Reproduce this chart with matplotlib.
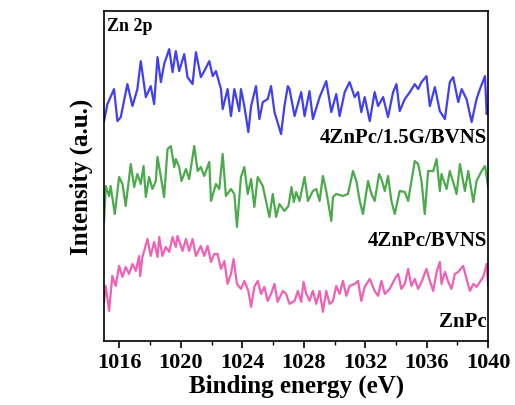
import matplotlib
matplotlib.use("Agg")
import matplotlib.pyplot as plt
from matplotlib.ticker import MultipleLocator

# Binding energy (eV) and intensity (a.u.)
e_blue = [1015.00, 1015.22, 1015.65, 1015.87, 1016.09, 1016.52, 1016.85, 1017.17, 1017.39, 1017.72,
          1018.04, 1018.26, 1018.48, 1018.70, 1018.91, 1019.24, 1019.46, 1019.67, 1019.89, 1020.22,
          1020.43, 1020.76, 1020.98, 1021.30, 1021.52, 1021.85, 1022.07, 1022.28, 1022.61, 1022.72,
          1023.04, 1023.26, 1023.48, 1023.80, 1023.91, 1024.13, 1024.39, 1024.57, 1024.89, 1025.11,
          1025.33, 1025.65, 1025.87, 1026.09, 1026.52, 1026.74, 1026.96, 1027.07, 1027.40, 1027.83,
          1028.05, 1028.37, 1028.59, 1029.03, 1029.46, 1029.79, 1030.11, 1030.33, 1030.66, 1030.98,
          1031.31, 1031.53, 1031.74, 1031.96, 1032.29, 1032.61, 1032.83, 1033.16, 1033.48, 1033.81,
          1034.03, 1034.24, 1034.57, 1034.90, 1035.22, 1035.44, 1035.66, 1035.98, 1036.20, 1036.53,
          1036.85, 1037.18, 1037.50, 1037.72, 1038.05, 1038.27, 1038.59, 1038.92, 1039.24, 1039.46,
          1039.79, 1039.90, 1040.00]
i_blue = [220, 237, 252, 220, 224, 257, 235, 252, 280, 244,
          255, 237, 284, 259, 277, 292, 269, 290, 270, 287,
          264, 257, 289, 264, 270, 280, 265, 270, 252, 232,
          252, 225, 252, 230, 252, 235, 209, 235, 255, 222,
          239, 242, 255, 229, 207, 235, 255, 252, 225, 249,
          225, 250, 222, 244, 260, 229, 247, 225, 249, 259,
          244, 249, 229, 244, 220, 249, 235, 244, 224, 249,
          257, 230, 242, 249, 257, 252, 259, 265, 235, 254,
          230, 222, 259, 264, 239, 252, 242, 219, 242, 252,
          265, 227, 235]

e_green = [1015.00, 1015.11, 1015.33, 1015.43, 1015.70, 1015.98, 1016.20, 1016.41, 1016.74, 1016.96,
           1017.17, 1017.39, 1017.57, 1017.72, 1017.93, 1018.15, 1018.37, 1018.48, 1018.70, 1018.91,
           1019.13, 1019.35, 1019.57, 1019.67, 1019.89, 1020.04, 1020.33, 1020.54, 1020.87, 1021.09,
           1021.30, 1021.52, 1021.85, 1021.96, 1022.28, 1022.50, 1022.72, 1022.93, 1023.26, 1023.48,
           1023.65, 1023.91, 1024.13, 1024.35, 1024.57, 1024.78, 1025.00, 1025.33, 1025.54, 1025.76,
           1025.98, 1026.20, 1026.41, 1026.74, 1027.00, 1027.20, 1027.35, 1027.50, 1027.72, 1028.05,
           1028.27, 1028.59, 1028.81, 1029.03, 1029.24, 1029.46, 1029.79, 1029.90, 1030.11, 1030.55,
           1030.87, 1031.20, 1031.42, 1031.64, 1031.85, 1032.18, 1032.40, 1032.61, 1032.90, 1033.05,
           1033.27, 1033.48, 1033.70, 1033.92, 1034.24, 1034.57, 1034.79, 1035.11, 1035.22, 1035.44,
           1035.66, 1035.87, 1036.09, 1036.42, 1036.64, 1036.85, 1036.96, 1037.29, 1037.50, 1037.72,
           1037.94, 1038.16, 1038.48, 1038.70, 1039.03, 1039.24, 1039.57, 1039.79, 1040.00]
i_green = [119, 155, 145, 155, 127, 164, 157, 135, 177, 154,
           167, 157, 175, 144, 164, 152, 160, 184, 164, 144,
           192, 195, 174, 182, 174, 160, 172, 162, 195, 170,
           174, 165, 179, 140, 157, 152, 187, 145, 152, 147,
           114, 164, 174, 147, 162, 134, 164, 155, 140, 124,
           147, 124, 137, 130, 135, 154, 139, 149, 140, 164,
           140, 150, 152, 140, 165, 150, 120, 144, 147, 145,
           147, 170, 160, 140, 127, 160, 147, 140, 167, 162,
           150, 165, 140, 127, 150, 149, 140, 170, 180, 177,
           160, 127, 170, 170, 182, 150, 167, 152, 170, 159,
           147, 177, 150, 170, 139, 160, 170, 175, 154]

e_pink = [1015.00, 1015.11, 1015.33, 1015.54, 1015.76, 1015.98, 1016.20, 1016.41, 1016.63, 1016.85,
          1017.07, 1017.28, 1017.35, 1017.50, 1017.83, 1018.04, 1018.26, 1018.48, 1018.59, 1018.80,
          1019.02, 1019.24, 1019.46, 1019.67, 1019.78, 1020.11, 1020.33, 1020.54, 1020.76, 1020.98,
          1021.30, 1021.52, 1021.74, 1021.96, 1022.17, 1022.39, 1022.61, 1022.83, 1023.04, 1023.26,
          1023.43, 1023.65, 1023.91, 1024.13, 1024.39, 1024.57, 1024.78, 1025.00, 1025.22, 1025.43,
          1025.65, 1025.87, 1026.09, 1026.30, 1026.63, 1026.85, 1027.07, 1027.40, 1027.61, 1027.83,
          1027.98, 1028.16, 1028.37, 1028.59, 1028.81, 1029.03, 1029.24, 1029.46, 1029.68, 1029.90,
          1030.11, 1030.33, 1030.55, 1030.77, 1030.98, 1031.31, 1031.53, 1031.74, 1031.96, 1032.29,
          1032.61, 1032.83, 1033.05, 1033.27, 1033.59, 1033.92, 1034.14, 1034.35, 1034.57, 1034.79,
          1035.00, 1035.22, 1035.44, 1035.66, 1035.98, 1036.20, 1036.42, 1036.64, 1036.85, 1036.96,
          1037.18, 1037.40, 1037.61, 1037.83, 1038.05, 1038.37, 1038.59, 1038.81, 1039.03, 1039.24,
          1039.46, 1039.68, 1039.90, 1040.00]
i_pink = [39, 55, 30, 65, 55, 75, 64, 74, 67, 77,
          70, 85, 65, 84, 102, 85, 99, 84, 104, 85,
          94, 89, 104, 94, 105, 90, 102, 90, 102, 85,
          95, 85, 95, 79, 87, 87, 72, 80, 57, 67,
          82, 57, 52, 60, 50, 34, 54, 60, 47, 54,
          40, 47, 57, 39, 50, 47, 37, 40, 50, 39,
          59, 47, 40, 50, 37, 50, 29, 50, 37, 40,
          55, 47, 60, 45, 55, 57, 60, 40, 54, 62,
          50, 45, 60, 47, 52, 62, 67, 52, 57, 72,
          55, 62, 52, 59, 72, 60, 50, 69, 79, 57,
          69, 59, 52, 67, 69, 75, 62, 50, 57, 54,
          59, 64, 77, 55]

labels = ["4ZnPc/1.5G/BVNS", "4ZnPc/BVNS", "ZnPc"]
label_y = [204, 101, 20]
colors = ["#4040f0", "#4caa4c", "#f060b4"]

plt.rcParams['font.family'] = ['Liberation Serif', 'DejaVu Serif']
plt.rcParams['font.weight'] = 'bold'

fig = plt.figure(figsize=(5.15, 4.06), dpi=100)
ax = fig.add_axes([0.202, 0.158, 0.746, 0.812])

for e, i, c in zip([e_blue, e_green, e_pink], [i_blue, i_green, i_pink], colors):
    ax.plot(e, i, color=c, lw=1.6)

for lab, y in zip(labels, label_y):
    ax.text(1039.9, y, lab, ha='right', va='center', fontsize=15, fontweight='bold')
ax.text(1015.2, 316, "Zn 2p", ha='left', va='center', fontsize=13, fontweight='bold')

ax.set_xlim(1015, 1040)
ax.set_ylim(0, 330)
ax.xaxis.set_major_locator(MultipleLocator(4))
ax.xaxis.set_minor_locator(MultipleLocator(2))
ax.set_xticks(range(1016, 1041, 4))
ax.set_yticks([])
ax.tick_params(axis='x', which='major', direction='out', length=5, width=1.2, labelsize=16, top=False, pad=3)
ax.tick_params(axis='x', which='minor', direction='out', length=3, width=1.0, top=False)
for lbl in ax.get_xticklabels():
    lbl.set_fontweight('bold')
for s in ax.spines.values():
    s.set_linewidth(1.2)

ax.set_xlabel("Binding energy (eV)", fontsize=18, fontweight='bold', labelpad=1)
ax.set_ylabel("Intensity (a.u.)", fontsize=18, fontweight='bold', labelpad=8)

fig.savefig("out.png", dpi=100)
